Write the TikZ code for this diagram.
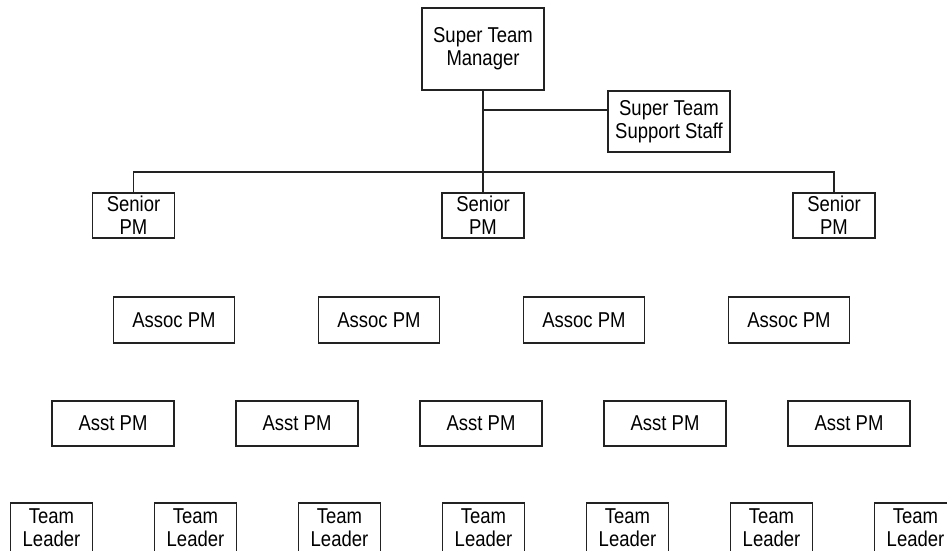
\documentclass[tikz,border=0pt]{standalone}
\usepackage{fontspec}
\setmainfont{Liberation Sans}[FakeStretch=0.86]
\usetikzlibrary{positioning}
\definecolor{ink}{HTML}{222222}

\begin{document}
\begin{tikzpicture}[x=1pt, y=-1pt,
  every node/.style={font=\fontsize{21.5}{23}\selectfont, align=center, inner sep=0pt},
  box/.style={draw=ink, line width=1.3pt, outer sep=0pt},
  wide/.style={box, minimum width=122pt, minimum height=45pt},
  narrow/.style={box, minimum width=82pt, minimum height=45pt},
  wire/.style={draw=ink, line width=1.7pt}]
\useasboundingbox (0,0) rectangle (947,550);
\clip (0,0) rectangle (947,550);

% top of the chart
\node[box, minimum width=122pt, minimum height=82pt] (mgr) at (483,49)
      {Super Team\\Manager};
\node[box, minimum width=122pt, minimum height=61pt] (staff) at (669,121.5)
      {Super Team\\Support Staff};

% senior PMs
\node[narrow] (spm1) at (133.5,215.5) {Senior\\PM};
\node[narrow, right=267.5pt of spm1] (spm2) {Senior\\PM};
\node[narrow, right=269pt of spm2] (spm3) {Senior\\PM};

% associate PMs
\node[wide, minimum width=121pt, minimum height=46pt] (assoc1) at (174,320) {Assoc PM};
\node[wide, minimum width=121pt, minimum height=46pt, right=84pt of assoc1] (assoc2) {Assoc PM};
\node[wide, minimum width=121pt, minimum height=46pt, right=84pt of assoc2] (assoc3) {Assoc PM};
\node[wide, minimum width=121pt, minimum height=46pt, right=84pt of assoc3] (assoc4) {Assoc PM};

% assistant PMs
\node[wide] (asst1) at (113,423.5) {Asst PM};
\node[wide, right=62pt of asst1] (asst2) {Asst PM};
\node[wide, right=62pt of asst2] (asst3) {Asst PM};
\node[wide, right=62pt of asst3] (asst4) {Asst PM};
\node[wide, right=62pt of asst4] (asst5) {Asst PM};

% team leaders (cut off at the bottom)
\node[narrow, minimum height=50pt] (tl1) at (51.5,528) {Team\\Leader};
\node[narrow, minimum height=50pt, right=62pt of tl1] (tl2) {Team\\Leader};
\node[narrow, minimum height=50pt, right=62pt of tl2] (tl3) {Team\\Leader};
\node[narrow, minimum height=50pt, right=62pt of tl3] (tl4) {Team\\Leader};
\node[narrow, minimum height=50pt, right=62pt of tl4] (tl5) {Team\\Leader};
\node[narrow, minimum height=50pt, right=62pt of tl5] (tl6) {Team\\Leader};
\node[narrow, minimum height=50pt, right=62pt of tl6] (tl7) {Team\\Leader};

% lines
\coordinate (tap) at (483,110);
\coordinate (bus) at (483,172);
\draw[wire] (mgr) -- (spm2);
\draw[wire] (tap) -- (tap -| staff.west);
\draw[wire] (spm1) |- (bus) -| (spm3);
\end{tikzpicture}
\end{document}
